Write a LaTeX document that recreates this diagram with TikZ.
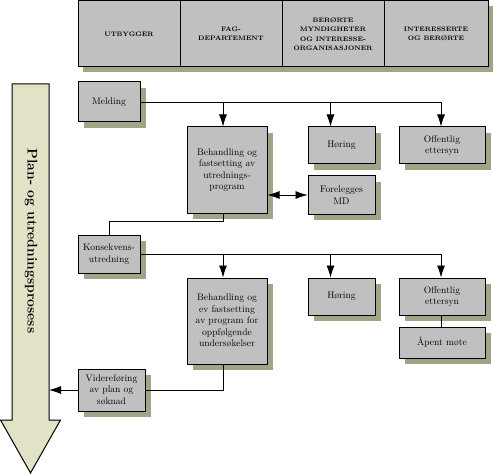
\documentclass[tikz,border=0pt]{standalone}
\usetikzlibrary{positioning}
\usetikzlibrary{arrows.meta,arrows}
\usetikzlibrary{shadows,backgrounds}
\definecolor{boxgray}{RGB}{192,192,192}
\definecolor{shadowolive}{RGB}{163,163,136}
\definecolor{arrowbeige}{RGB}{226,226,198}
\tikzset{
  box/.style={draw,line width=1bp,fill=boxgray,align=center,inner sep=1bp,
    font=\fontsize{9.6}{11.5}\selectfont,
    drop shadow={shadow xshift=6bp,shadow yshift=-6bp,fill=shadowolive,opacity=1}},
  hcell/.style={draw,line width=1bp,fill=boxgray,align=center,outer sep=0pt,inner sep=0pt,
    minimum width=102bp,minimum height=66bp,font=\fontsize{6.5}{9.3}\selectfont\bfseries},
  wire/.style={line width=0.8bp},
}
\begin{document}
\begin{tikzpicture}[x=1bp,y=-1bp]
				\useasboundingbox (0,0) rectangle (494,475);
				\node[hcell](utb) at (129,34) {UTBYGGER};
				\node[hcell,right=0pt of utb](fagdep) {FAG-\\DEPARTEMENT};
				\node[hcell,right=0pt of fagdep](berorte) {BERØRTE\\MYNDIGHETER\\OG INTERESSE-\\ORGANISASJONER};
				\node[hcell,right=0pt of berorte,minimum width=104bp](interes) {INTERESSERTE\\OG BERØRTE};
				\begin{scope}[on background layer]
					\fill[shadowolive] ([shift={(5,5)}]utb.north west) rectangle ([shift={(5,5)}]interes.south east);
				\end{scope}

				\filldraw[fill=arrowbeige,line width=1bp] (12,84) -- (49,84) -- (49,420) -- (60.5,420) -- (30.5,473) -- (0.5,420) -- (12,420) -- cycle;
				\coordinate (shaftR) at (49,0);
				\node[rotate=-90,font=\fontsize{14}{16}\selectfont\bfseries](prosess) at (31,241) {Plan- og utredningsprosess};

				\node[box,minimum width=62bp,minimum height=40bp](melding) at (109,102) {Melding};
				\node[box,minimum width=80bp,minimum height=86bp,below right=4bp and 46bp of melding](beh1) {Behandling og\\fastsetting av\\utrednings-\\program};
				\node[box,minimum width=67bp,minimum height=37bp,right=40bp of beh1.north east,anchor=north west](hoer1) {Høring};
				\node[box,minimum width=86bp,minimum height=37bp,right=23bp of hoer1](off1) {Offentlig\\ettersyn};
				\node[box,minimum width=67bp,minimum height=38bp,below=11bp of hoer1](fmd) {Forelegges\\MD};
				\node[box,minimum width=62bp,minimum height=38bp,below=112bp of melding](kons) {Konsekvens-\\utredning};
				\node[box,minimum width=80bp,minimum height=86bp,below right=4bp and 46bp of kons](beh2) {Behandling og\\ev fastsetting\\av program for\\oppfølgende\\undersøkelser};
				\node[box,minimum width=67bp,minimum height=37bp,right=40bp of beh2.north east,anchor=north west](hoer2) {Høring};
				\node[box,minimum width=86bp,minimum height=37bp,right=23bp of hoer2](off2) {Offentlig\\ettersyn};
				\node[box,minimum width=86bp,minimum height=31bp,below=11bp of off2](aapent) {Åpent møte};
				\node[box,minimum width=67bp,minimum height=42bp,below=95bp of kons.south west,anchor=north west](vid) {Videreføring\\av plan og\\søknad};

				\coordinate (b1) at ([xshift=-4bp]beh1.north);
				\coordinate (h1) at ([xshift=-11bp]hoer1.north);
				\coordinate (o1) at ([xshift=-1bp]off1.north);
				\coordinate (b2) at ([xshift=-4bp]beh2.north);
				\coordinate (h2) at ([xshift=-11bp]hoer2.north);
				\coordinate (o2) at ([xshift=-1bp]off2.north);
				\coordinate (k1) at ([yshift=13bp]kons.north);

				\draw[wire] (melding.east) -- (melding.east -| o1);
				\draw[wire,-{Latex[length=12bp,width=8bp]}] (melding.east -| b1) to (b1);
				\draw[wire,-{Latex[length=12bp,width=8bp]}] (melding.east -| h1) to (h1);
				\draw[wire,-{Latex[length=12bp,width=8bp]}] (melding.east -| o1) to (o1);
				\draw[wire,{Latex[length=12bp,width=8bp]}-{Latex[length=12bp,width=8bp]}] (fmd.west -| beh1.east) to (fmd.west);
				\draw[wire] (beh1.south -| b1) |- (k1) -- (kons.north);
				\draw[wire] (kons.east) -- (kons.east -| o2);
				\draw[wire,-{Latex[length=12bp,width=8bp]}] (kons.east -| b2) to (b2);
				\draw[wire,-{Latex[length=12bp,width=8bp]}] (kons.east -| h2) to (h2);
				\draw[wire,-{Latex[length=12bp,width=8bp]}] (kons.east -| o2) to (o2);
				\draw[wire] (off2.south -| o2) to (aapent.north -| o2);
				\draw[wire] (beh2.south -| b2) |- (vid.east);
				\draw[wire,-{Latex[length=12bp,width=8bp]}] (vid.west) to (vid.west -| shaftR);
			\end{tikzpicture}
\end{document}
